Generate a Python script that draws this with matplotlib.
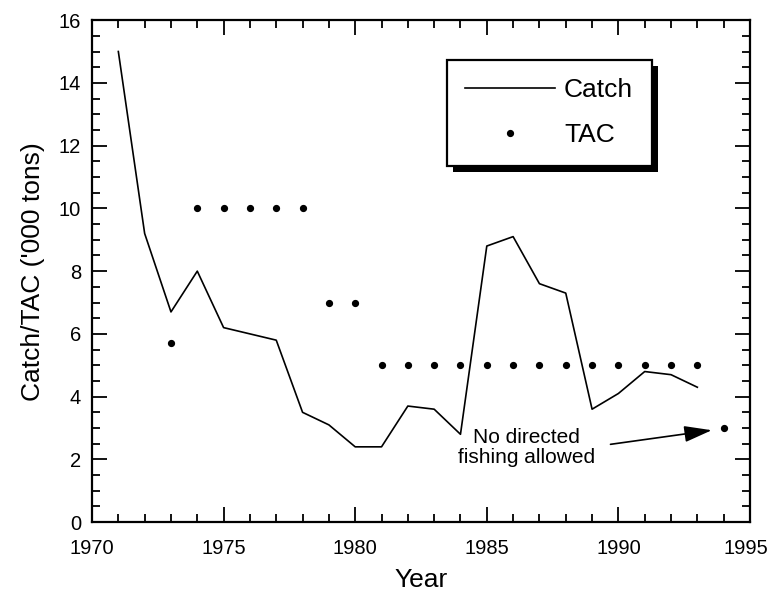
import matplotlib
matplotlib.use("Agg")
import matplotlib.pyplot as plt
from matplotlib.lines import Line2D
from matplotlib.patches import Rectangle
from matplotlib.ticker import MultipleLocator, FixedLocator
from matplotlib.transforms import ScaledTranslation

plt.rcParams['font.family'] = ['Liberation Sans', 'DejaVu Sans']

# Annual catch ('000 tons)
catch_years = [1971, 1972, 1973, 1974, 1975, 1976, 1977, 1978, 1979, 1980,
               1981, 1982, 1983, 1984, 1985, 1986, 1987, 1988, 1989, 1990,
               1991, 1992, 1993]
catch_values = [15.0, 9.2, 6.7, 8.0, 6.2, 6.0, 5.8, 3.5, 3.1, 2.4,
                2.4, 3.7, 3.6, 2.8, 8.8, 9.1, 7.6, 7.3, 3.6, 4.1,
                4.8, 4.7, 4.3]

# Total allowable catch ('000 tons)
tac_years = [1973, 1974, 1975, 1976, 1977, 1978, 1979, 1980, 1981, 1982,
             1983, 1984, 1985, 1986, 1987, 1988, 1989, 1990, 1991, 1992,
             1993, 1994]
tac_values = [5.7, 10, 10, 10, 10, 10, 7, 7, 5, 5,
              5, 5, 5, 5, 5, 5, 5, 5, 5, 5,
              5, 3.0]

year_ticks = [1970, 1975, 1980, 1985, 1990, 1995]

fig = plt.figure(figsize=(7.7, 5.92), dpi=100)
ax = fig.add_axes([0.1195, 0.118, 0.8545, 0.848])

ax.plot(catch_years, catch_values, color='black', lw=1.2, label='Catch')
ax.plot(tac_years, tac_values, linestyle='none', marker='o', ms=4.2,
        color='black', label='TAC')

ax.set_xlim(1970, 1995)
ax.set_ylim(0, 16)
ax.xaxis.set_major_locator(FixedLocator(year_ticks))
ax.xaxis.set_minor_locator(MultipleLocator(1))
ax.yaxis.set_major_locator(MultipleLocator(2))
ax.yaxis.set_minor_locator(MultipleLocator(0.5))
ax.tick_params(which='both', direction='in', top=True, right=True,
               width=1.3, colors='black')
ax.tick_params(which='major', length=11, labelsize=14.5)
ax.tick_params(which='minor', length=6)
ax.tick_params(axis='x', which='major', pad=12)
ax.tick_params(axis='y', which='major', pad=8)
for s in ax.spines.values():
    s.set_linewidth(1.6)

ax.set_xlabel('Year', fontsize=19, labelpad=7)
ax.set_ylabel("Catch/TAC ('000 tons)", fontsize=19, labelpad=10)

# Note for the final year, with an arrow pointing at its TAC mark
ax.text(1986.5, 2.38, 'No directed\nfishing allowed', ha='center',
        va='center', fontsize=15, linespacing=1.1)
ax.annotate('', xy=(1993.55, 2.93), xytext=(1989.7, 2.48),
            arrowprops=dict(arrowstyle='-|>,head_length=1.7,head_width=0.5',
                            color='black', lw=1.2, shrinkA=0, shrinkB=0))

handles = [Line2D([], [], color='black', lw=1.2),
           Line2D([], [], linestyle='none', marker='o', ms=4.2, color='black')]
leg = ax.legend(handles, ['Catch', 'TAC'], loc='upper left',
                bbox_to_anchor=(0.539, 0.921), fontsize=19, frameon=True,
                fancybox=False, edgecolor='black', framealpha=1,
                handlelength=3.4, handletextpad=0.35, labelspacing=0.8,
                borderpad=0.7, borderaxespad=0)
leg.get_frame().set_linewidth(1.6)
leg.set_zorder(5)

# Solid drop shadow behind the legend box
fig.canvas.draw()
bb = leg.get_window_extent().transformed(fig.transFigure.inverted())
dx, dy = 6 / 770, 6 / 592
shadow = Rectangle((bb.x0 + dx, bb.y0 - dy), bb.width, bb.height,
                   transform=fig.transFigure, facecolor='black',
                   edgecolor='none', zorder=4)
fig.add_artist(shadow)
leg.remove()
fig.add_artist(leg)

# Nudge the rightmost year label inward so it stays inside the figure
for tick in ax.xaxis.get_major_ticks():
    if tick.get_loc() == year_ticks[-1]:
        tick.label1.set_transform(tick.label1.get_transform()
                                  + ScaledTranslation(-0.04, 0,
                                                      fig.dpi_scale_trans))

fig.savefig('out.png', dpi=100)
